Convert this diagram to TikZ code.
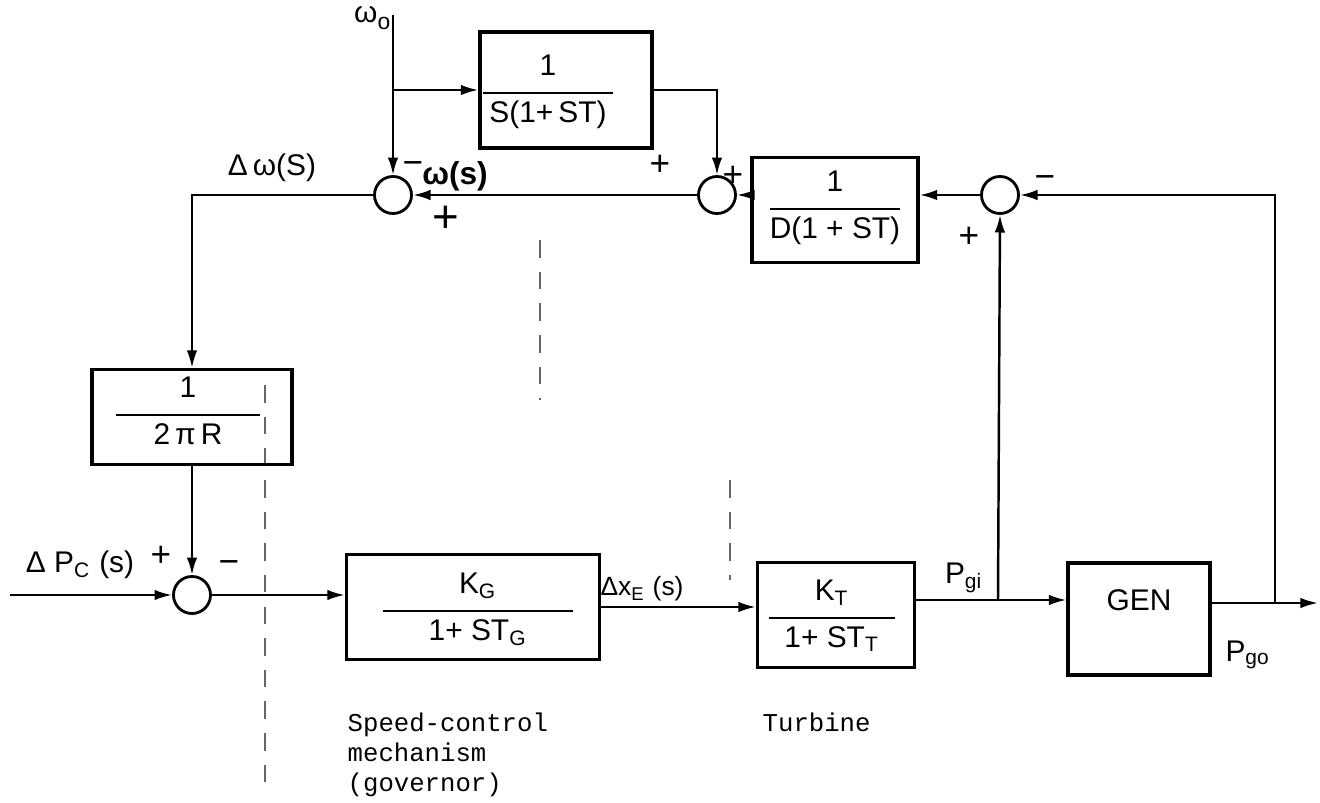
\documentclass[tikz,border=0pt]{standalone}
\usepackage{fontspec}
\setmainfont{Liberation Sans}
\setmonofont{Liberation Mono}
\usetikzlibrary{arrows.meta}
\setlength\arrayrulewidth{0.7pt}
\newcommand\frc[3]{\begin{tabular}{@{}c@{}}#2\\[1.5pt]\hline\rule{0pt}{8pt}\makebox[#1]{#3}\end{tabular}}
\begin{document}
\begin{tikzpicture}[x=0.01cm,y=-0.01cm,
  blk/.style={draw, line width=0.9pt, inner sep=0pt},
  sumj/.style={draw, circle, line width=0.8pt, minimum size=0.37cm, inner sep=0pt},
  txt/.style={inner sep=0pt, font=\fontsize{8.5}{10}\selectfont},
  sgn/.style={inner sep=0pt, font=\fontsize{10}{11}\selectfont},
  note/.style={inner sep=0pt, font=\ttfamily\fontsize{7.3}{8.6}\selectfont, align=left},
  wire/.style={line width=0.7pt},
  sig/.style={line width=0.7pt, -{Latex[length=5pt,width=3pt]}},
  artifact/.style={dashed, dash pattern=on 5pt off 4pt, line width=0.3pt, black!60}
]
\useasboundingbox (0,0) rectangle (1320,803);

% scan marks
\draw[artifact] (265,385) -- (265,795);
\draw[artifact] (540,240) -- (540,400);
\draw[artifact] (730,480) -- (730,580);

% blocks
\node[blk, minimum width=1.72cm, minimum height=1.16cm] (b1) at (566,90) {};
\node[txt] (b1f) at (548,92) {\frc{1.3cm}{1}{S(1+\,ST)}};
\node[blk, minimum width=1.66cm, minimum height=1.05cm] (bD) at (835,210) {};
\node[txt] (bDf) at (835,208) {\frc{1.3cm}{1}{D(1 + ST)}};
\node[blk, minimum width=2.0cm, minimum height=0.95cm] (bR) at (192,417) {};
\node[txt] (bRf) at (188,414) {\frc{1.43cm}{1}{2\,π\,R}};
\node[blk, minimum width=2.53cm, minimum height=1.05cm] (bG) at (473,607) {};
\node[txt] (bGf) at (478,610) {\frc{1.9cm}{K\textsubscript{G}}{1+ ST\textsubscript{G}}};
\node[blk, minimum width=1.57cm, minimum height=1.05cm] (bT) at (836,615) {};
\node[txt] (bTf) at (832,617) {\frc{1.25cm}{K\textsubscript{T}}{1+ ST\textsubscript{T}}};
\node[blk, minimum width=1.42cm, minimum height=1.12cm] (bN) at (1139,619) {};
\node[txt] (bNt) at (1139,600) {GEN};

% summing junctions
\node[sumj] (s1) at (393,195) {};
\node[sumj] (s2) at (717,195) {};
\node[sumj] (s3) at (1000,195) {};
\node[sumj] (s4) at (192,595) {};

% coordinates
\coordinate (w0) at (393,15);
\coordinate (br1) at (393,90);
\coordinate (in) at (10,595);
\coordinate (jP) at (998,600);
\coordinate (jG) at (1275,603);
\coordinate (out) at (1318,603);

% connectors
\draw[sig] (w0) -- (s1.north);
\draw[sig] (br1) -- (b1.west |- br1);
\draw[sig] (b1.east) -| (s2.north);
\draw[sig] (bD.west |- s2) -- (s2.east);
\draw[sig] (s3.west) -- (bD.east |- s3);
\draw[sig] (s2.west) -- (s1.east);
\draw[sig] (s1.west) -| (bR.north);
\draw[sig] (bR.south) -- (s4.north);
\draw[sig] (in) -- (s4.west);
\draw[sig] (s4.east) -- (bG.west |- s4);
\draw[sig] (bG.east) -- (bT.west |- bG.east);
\draw[sig] (bT.east |- jP) -- (bN.west |- jP);
\draw[sig] (jP) -- (s3.south);
\draw[sig] (bN.east |- jG) -- (out);
\draw[sig] (jG) |- (s3.east);

% labels
\node[txt, anchor=east] (lw0) at (391,18) {ω\raisebox{-2pt}{\fontsize{6.5}{7}\selectfont o}};
\node[txt] (ldw) at (272,168) {Δ\,ω(S)};
\node[txt, font=\bfseries\fontsize{9}{10}\selectfont] (lws) at (455,176) {ω(s)};
\node[sgn] (m1) at (413,168) {−};
\node[sgn, font=\fontsize{13}{14}\selectfont] (p1) at (446,219) {+};
\node[sgn] (p2a) at (660,165) {+};
\node[sgn] (p2b) at (733,176) {+};
\node[sgn] (m3) at (1045,182) {−};
\node[sgn] (p3) at (969,237) {+};
\node[txt] (lpc) at (80,565) {Δ P\textsubscript{C} (s)};
\node[sgn] (p4) at (161,556) {+};
\node[sgn] (m4) at (229,567) {−};
\node[txt, font=\fontsize{7.5}{8}\selectfont] (lxe) at (642,589) {Δx\textsubscript{E} (s)};
\node[txt] (lpgi) at (964,578) {P\textsubscript{gi}};
\node[txt] (lpgo) at (1248,655) {P\textsubscript{go}};
\node[note, anchor=north west] (ngov) at (347,712) {Speed-control\\mechanism\\(governor)};
\node[note, anchor=north west] (ntur) at (762,712) {Turbine};
\end{tikzpicture}
\end{document}
